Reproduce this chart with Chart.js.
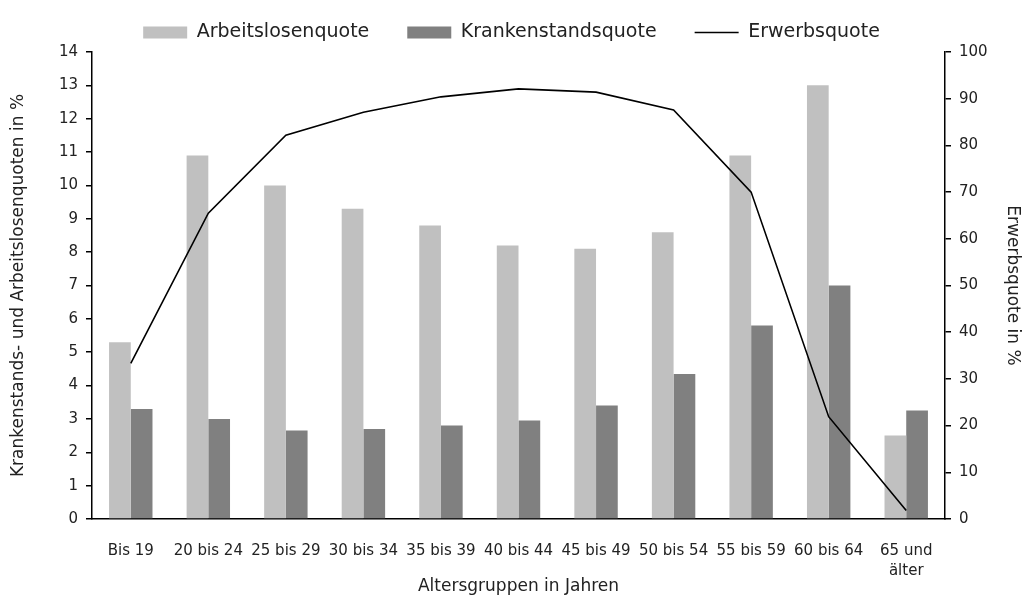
<!DOCTYPE html>
<html>
<head>
<meta charset="utf-8">
<script src="https://cdn.jsdelivr.net/npm/chart.js@4"></script>
<style>
    html, body { margin: 0; padding: 0; background: #fff; }
    #wrap { width: 1023px; height: 597px; }
</style>
</head>
<body>
<div id="wrap"><canvas id="quotenChart" width="1023" height="597"></canvas></div>
<script>
const ageGroups = ['Bis 19', '20 bis 24', '25 bis 29', '30 bis 34', '35 bis 39', '40 bis 44',
    '45 bis 49', '50 bis 54', '55 bis 59', '60 bis 64', ['65 und', 'älter']];
const arbeitslosenquote = [5.3, 10.9, 10.0, 9.3, 8.8, 8.2, 8.1, 8.6, 10.9, 13.0, 2.5];
const krankenstandsquote = [3.3, 3.0, 2.65, 2.7, 2.8, 2.95, 3.4, 4.35, 5.8, 7.0, 3.25];
const erwerbsquote = [33.3, 65.5, 82.2, 87.1, 90.4, 92.1, 91.4, 87.6, 70.0, 21.9, 1.8];

const textColor = '#222';
const fontFamily = '"DejaVu Sans", sans-serif';

document.addEventListener('DOMContentLoaded', function() {
    const ctx = document.getElementById('quotenChart').getContext('2d');
    new Chart(ctx, {
        type: 'bar',
        data: {
            labels: ageGroups,
            datasets: [
                {
                    label: 'Arbeitslosenquote',
                    data: arbeitslosenquote,
                    backgroundColor: '#c0c0c0',
                    borderWidth: 0,
                    pointStyle: 'rect',
                    yAxisID: 'y',
                    order: 2
                },
                {
                    label: 'Krankenstandsquote',
                    data: krankenstandsquote,
                    backgroundColor: '#808080',
                    borderWidth: 0,
                    pointStyle: 'rect',
                    yAxisID: 'y',
                    order: 3
                },
                {
                    type: 'line',
                    label: 'Erwerbsquote',
                    data: erwerbsquote,
                    borderColor: '#000',
                    backgroundColor: '#000',
                    borderWidth: 1.6,
                    pointRadius: 0,
                    pointStyle: 'line',
                    tension: 0,
                    fill: false,
                    yAxisID: 'y1',
                    order: 1
                }
            ]
        },
        options: {
            responsive: false,
            animation: false,
            datasets: {
                bar: { categoryPercentage: 0.56, barPercentage: 1.0 }
            },
            // legend sits high, the plot top is pushed down by the y axis padding below
            layout: { padding: { top: -24, right: 0, bottom: 0, left: 0 } },
            scales: {
                x: {
                    grid: { display: false },
                    border: { color: '#000', width: 1.5 },
                    ticks: {
                        color: textColor,
                        font: { family: fontFamily, size: 15, lineHeight: 1.35 },
                        maxRotation: 0,
                        autoSkip: false,
                        padding: 14
                    },
                    title: {
                        display: true,
                        text: 'Altersgruppen in Jahren',
                        color: textColor,
                        font: { family: fontFamily, size: 17 },
                        padding: { top: 0, bottom: 0 }
                    },
                    afterFit: function(scale) { scale.height = 78; }
                },
                y: {
                    position: 'left',
                    min: 0,
                    max: 14,
                    ticks: {
                        stepSize: 1,
                        color: textColor,
                        font: { family: fontFamily, size: 15 },
                        padding: 8
                    },
                    grid: {
                        drawOnChartArea: false,
                        drawTicks: true,
                        tickLength: 6,
                        color: '#000',
                        lineWidth: 1.5
                    },
                    border: { color: '#000', width: 1.5 },
                    title: {
                        display: true,
                        text: 'Krankenstands- und Arbeitslosenquoten in %',
                        color: textColor,
                        font: { family: fontFamily, size: 17 },
                        padding: { top: 8, bottom: 0 }
                    },
                    afterFit: function(scale) {
                        scale.width = 92;
                        scale.paddingTop = 52;
                    }
                },
                y1: {
                    position: 'right',
                    min: 0,
                    max: 100,
                    ticks: {
                        stepSize: 10,
                        color: textColor,
                        font: { family: fontFamily, size: 15 },
                        padding: 8
                    },
                    grid: {
                        drawOnChartArea: false,
                        drawTicks: true,
                        tickLength: 6,
                        color: '#000',
                        lineWidth: 1.5
                    },
                    border: { color: '#000', width: 1.5 },
                    title: {
                        display: true,
                        text: 'Erwerbsquote in %',
                        color: textColor,
                        font: { family: fontFamily, size: 17 },
                        padding: { top: 0, bottom: 0 }
                    },
                    afterFit: function(scale) { scale.width = 78; }
                }
            },
            plugins: {
                legend: {
                    position: 'top',
                    labels: {
                        color: textColor,
                        font: { family: fontFamily, size: 19 },
                        usePointStyle: true,
                        pointStyleWidth: 44,
                        boxHeight: 12,
                        padding: 38,
                        sort: function(a, b) { return a.datasetIndex - b.datasetIndex; }
                    }
                },
                tooltip: { enabled: false }
            }
        }
    });
});
</script>
</body>
</html>
